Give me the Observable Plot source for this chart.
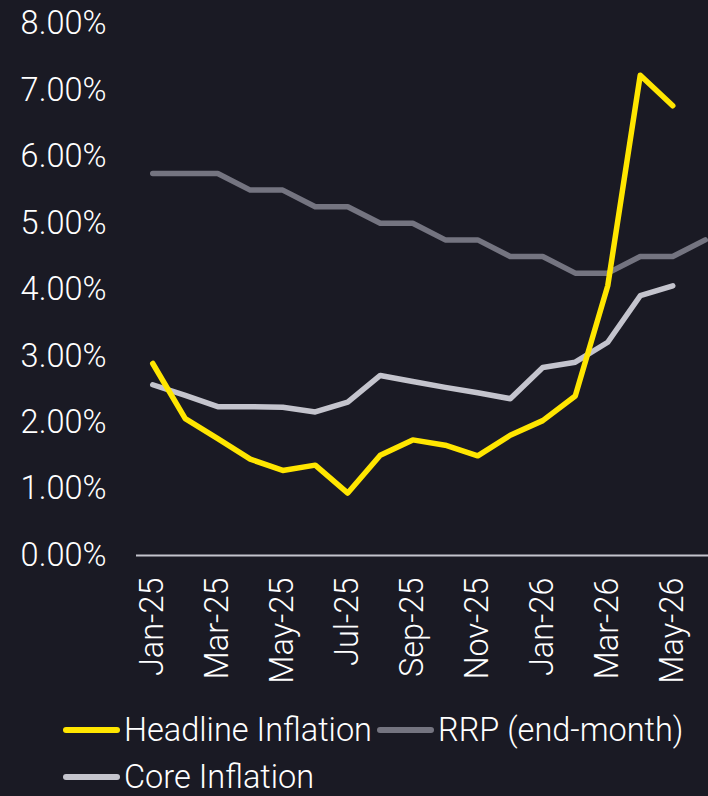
<!DOCTYPE html>
<html>
<head>
<meta charset="utf-8">
<script src="https://cdn.jsdelivr.net/npm/d3@7"></script>
<script src="https://cdn.jsdelivr.net/npm/@observablehq/plot@0.6"></script>
<style>
  html, body { margin: 0; padding: 0; background: #1a1a24; overflow: hidden; }
  body { width: 708px; height: 796px; font-family: Roboto, sans-serif; font-weight: 300; color: #ffffff; }
  #legend { width: 708px; box-sizing: border-box; padding: 24px 0 0 63px; line-height: 32px; row-gap: 15px; font-size: 32.5px; display: flex; flex-wrap: wrap; }
  .item { display: inline-flex; align-items: center; margin-right: 5px; white-space: nowrap; }
  .sw { width: 57px; height: 6px; border-radius: 3px; margin-right: 4px; }
</style>
</head>
<body>
<div id="chart"></div>
<div id="legend"></div>
<script>
const months = ["Jan-25","Feb-25","Mar-25","Apr-25","May-25","Jun-25","Jul-25","Aug-25","Sep-25","Oct-25","Nov-25","Dec-25","Jan-26","Feb-26","Mar-26","Apr-26","May-26","Jun-26"];
const headline = [2.89, 2.06, 1.76, 1.45, 1.28, 1.36, 0.94, 1.51, 1.74, 1.66, 1.50, 1.81, 2.03, 2.40, 4.06, 7.23, 6.77, null];
const core = [2.57, 2.41, 2.24, 2.24, 2.23, 2.16, 2.31, 2.71, 2.62, 2.53, 2.45, 2.36, 2.83, 2.91, 3.21, 3.91, 4.06, null];
const rrp = [5.75, 5.75, 5.75, 5.5, 5.5, 5.25, 5.25, 5.0, 5.0, 4.75, 4.75, 4.5, 4.5, 4.25, 4.25, 4.5, 4.5, 4.75];
const yTicks = [0, 1, 2, 3, 4, 5, 6, 7, 8];
const xTicks = [0, 2, 4, 6, 8, 10, 12, 14, 16];

const series = [
  {name: "Headline Inflation", values: headline, color: "#ffe600"},
  {name: "RRP (end-month)", values: rrp, color: "#747480"},
  {name: "Core Inflation", values: core, color: "#c4c4cd"}
];

function rows(values) {
  return values.map((v, i) => ({i, v})).filter(d => d.v != null);
}

const drawOrder = [series[2], series[1], series[0]];

const plot = Plot.plot({
  width: 708,
  height: 690,
  marginLeft: 136,
  marginRight: 0,
  marginTop: 23.5,
  marginBottom: 135,
  style: {background: "#1a1a24", color: "#ffffff", fontFamily: "Roboto, sans-serif", fontWeight: 300, fontSize: "32.5px", overflow: "visible"},
  x: {type: "linear", domain: [-0.5, 17.1]},
  y: {domain: [0, 8]},
  marks: [
    Plot.axisY({ticks: yTicks, tickSize: 0, tickPadding: 30, tickFormat: d => d.toFixed(2) + "%", label: null, fontSize: 32.5}),
    Plot.axisX({ticks: xTicks, tickSize: 0, tickPadding: 22, tickRotate: -90, tickFormat: i => months[i], label: null, fontSize: 32.5}),
    Plot.ruleY([0], {stroke: "#c4c4cd", strokeWidth: 2}),
    ...drawOrder.map(s => Plot.line(rows(s.values), {x: "i", y: "v", stroke: s.color, strokeWidth: 5.5, strokeLinecap: "round", strokeLinejoin: "round"}))
  ]
});
document.getElementById("chart").appendChild(plot);

const legend = document.getElementById("legend");
for (const s of series) {
  const item = document.createElement("span");
  item.className = "item";
  const sw = document.createElement("span");
  sw.className = "sw";
  sw.style.background = s.color;
  item.appendChild(sw);
  item.appendChild(document.createTextNode(s.name));
  legend.appendChild(item);
}
</script>
</body>
</html>
